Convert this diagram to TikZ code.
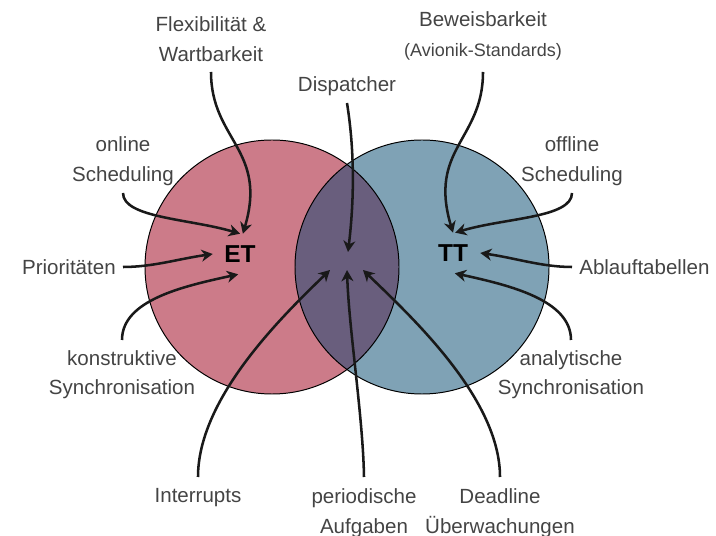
\documentclass[tikz,border=0pt]{standalone}
\usepackage{fontspec}
\setmainfont{Liberation Sans}
\usepackage{xcolor}
\usepackage{tikz}
\usetikzlibrary{arrows.meta}

\definecolor{etred}{HTML}{CC7B89}
\definecolor{ttblue}{HTML}{7FA2B5}
\definecolor{bothviolet}{HTML}{695E7D}
\definecolor{lblgray}{HTML}{444444}

\begin{document}
\begin{tikzpicture}[
    x=0.025cm, y=-0.025cm,
    lbl/.style={font=\fontsize{14.6}{21.3}\selectfont, text=lblgray, align=center, inner sep=5pt},
    setlbl/.style={font=\bfseries\fontsize{17.4}{20}\selectfont, text=black,
                   minimum width=1.35cm, minimum height=1cm, inner sep=0pt},
    arrow/.style={-{Stealth[length=8pt,width=8.5pt,inset=2.5pt]}, line width=1.8pt, black!90},
    ring/.style={draw=black, line width=0.7pt}
]
\useasboundingbox (0,0) rectangle (716,536);

% the two sets
\fill[etred]  (272,267) circle[radius=127];
\fill[ttblue] (422,267) circle[radius=127];
\begin{scope}
    \clip (272,267) circle[radius=127];
    \fill[bothviolet] (422,267) circle[radius=127];
\end{scope}
\draw[ring] (272,267) circle[radius=127];
\draw[ring] (422,267) circle[radius=127];

\node[setlbl] (et) at (240,254) {ET};
\node[setlbl] (tt) at (453,253) {TT};

\coordinate (disptip) at (348,252);
\coordinate (irqtip)  at (330,270);
\coordinate (pertip)  at (347,270);
\coordinate (dltip)   at (363,270);

% labels
\node[lbl, anchor=south, inner ysep=7pt] (flex)  at (211,72)  {Flexibilität \&\\Wartbarkeit};
\node[lbl, anchor=south, inner ysep=8pt] (proof) at (483,72)  {Beweisbarkeit\\{\fontsize{12.8}{20.6}\selectfont (Avionik-Standards)}};
\node[lbl, anchor=south] (disp)     at (347,103) {Dispatcher};
\node[lbl, anchor=south] (online)   at (123,193) {online\\Scheduling};
\node[lbl, anchor=south] (offline)  at (572,193) {offline\\Scheduling};
\node[lbl, anchor=east]  (prio)     at (123,267) {Prioritäten};
\node[lbl, anchor=west]  (table)    at (572,267) {Ablauftabellen};
\node[lbl, anchor=north, inner ysep=7pt] (konstr)   at (122,340) {konstruktive\\Synchronisation};
\node[lbl, anchor=north, inner ysep=7pt] (analyt)   at (571,340) {analytische\\Synchronisation};
\node[lbl, anchor=north, inner ysep=8pt] (irq)      at (198,477) {Interrupts};
\node[lbl, anchor=north, inner ysep=8pt] (periodic) at (364,477) {periodische\\Aufgaben};
\node[lbl, anchor=north, inner ysep=8pt] (deadline) at (500,477) {Deadline\\Überwachungen};

% ET side
\draw[arrow] (flex.south)   .. controls +(0,68)   and +(25,-84) .. (et.82);
\draw[arrow] (online.south) .. controls +(0,25)   and +(-50,-15) .. (et.north);
\draw[arrow] (prio.east)    .. controls +(30,0)   and +(-35,5) .. (et.west);
\draw[arrow] (konstr.north) .. controls +(0,-40)  and +(-55,12) .. (et.265);

% TT side
\draw[arrow] (proof.south)   .. controls +(0,68)  and +(-25,-84) .. (tt.north);
\draw[arrow] (offline.south) .. controls +(0,25)  and +(50,-15) .. (tt.84);
\draw[arrow] (table.west)    .. controls +(-30,0) and +(35,5) .. (tt.east);
\draw[arrow] (analyt.north)  .. controls +(0,-40) and +(55,12) .. (tt.275);

% both
\draw[arrow] (disp.south)     .. controls +(8,50)   and +(6,-50) .. (disptip);
\draw[arrow] (irq.north)      .. controls +(0,-77)  and +(-52,50) .. (irqtip);
\draw[arrow] (periodic.north) .. controls +(-1,-60) and +(2,60) .. (pertip);
\draw[arrow] (deadline.north) .. controls +(0,-77)  and +(52,50) .. (dltip);
\end{tikzpicture}
\end{document}
